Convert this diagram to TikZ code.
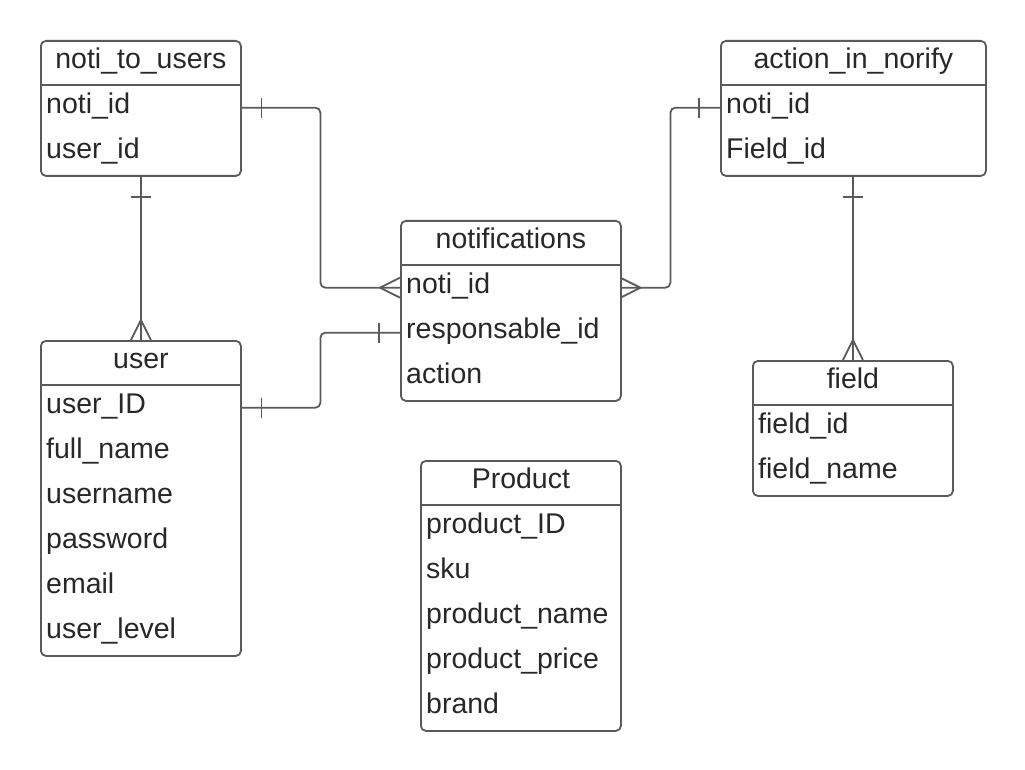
\documentclass[tikz,border=0pt]{standalone}
\usepackage{fontspec}
\setmainfont{Liberation Sans}
\usetikzlibrary{calc}
\definecolor{ln}{HTML}{5A5A5A}
\definecolor{tx}{HTML}{282828}
\tikzset{
  frame/.style={draw=ln, line width=1.8pt, rounded corners=5pt, rectangle, inner sep=0pt},
  hdr/.style={inner ysep=0pt, inner xsep=6pt, minimum height=45pt, text height=20pt, text depth=8.5pt, text=tx, font=\fontsize{28.5}{34}\selectfont},
  rowc/.style={inner ysep=0pt, inner xsep=6pt, minimum height=45pt, text height=20pt, text depth=8pt, align=left, text=tx, font=\fontsize{28.5}{34}\selectfont},
  conn/.style={draw=ln, line width=1.8pt, rounded corners=5pt},
  erm/.style={draw=ln, line width=1.8pt}
}
% name, x, y, width, height, title, rows
\newcommand{\ertab}[7]{%
  \node[frame, minimum width=#4pt, minimum height=#5pt, anchor=north west] (#1) at (#2,#3) {};
  \node[hdr, anchor=north] (#1h) at (#1.north) {#6};
  \draw[erm] ($(#1.north west)+(0,45)$) -- ($(#1.north east)+(0,45)$);
  \foreach \r [count=\i] in {#7} {
    \node[rowc, text width=#4pt-12pt, anchor=north west] (#1\i) at ($(#1.north west)+(0,45*\i)$) {\r};
  }
}
\begin{document}
\begin{tikzpicture}[x=1pt,y=-1pt]
\fill[white] (0,0) rectangle (1025,770);
\useasboundingbox (0,0) rectangle (1025,770);

\ertab{ntu}{40}{40}{200}{135}{noti\_to\_users}{noti\_id,user\_id}
\ertab{usr}{40}{340}{200}{315}{user}{user\_ID,full\_name,username,password,email,user\_level}
\ertab{nf}{400}{220}{220}{180}{notifications}{noti\_id,responsable\_id,action}
\ertab{ain}{720}{40}{265}{135}{action\_in\_norify}{noti\_id,Field\_id}
\ertab{fld}{752}{360}{200}{135}{field}{field\_id,field\_name}
\ertab{prd}{420}{460}{200}{270}{Product}{product\_ID,sku,product\_name,product\_price,brand}

% noti_to_users -> notifications
\draw[conn] (ntu1.east) -- ++(80,0) |- (nf1.west);
\draw[erm] ($(ntu1.east)+(21,-10)$) -- ++(0,20);
\draw[erm] ($(nf1.west)+(0,-10)$) -- ++(-20,10) -- ++(20,10);

% noti_to_users -> user
\draw[conn] (ntu.south) -- (usr.north);
\draw[erm] ($(ntu.south)+(-10,20)$) -- ++(20,0);
\draw[erm] ($(usr.north)+(-10,0)$) -- ++(10,-20) -- ++(10,20);

% user -> notifications
\draw[conn] (usr1.east) -- ++(80,0) |- (nf2.west);
\draw[erm] ($(usr1.east)+(21,-10)$) -- ++(0,20);
\draw[erm] ($(nf2.west)+(-21,-10)$) -- ++(0,20);

% notifications -> action_in_norify
\draw[conn] (nf1.east) -- ++(50,0) |- (ain1.west);
\draw[erm] ($(nf1.east)+(0,-10)$) -- ++(20,10) -- ++(-20,10);
\draw[erm] ($(ain1.west)+(-21,-10)$) -- ++(0,20);

% action_in_norify -> field
\coordinate (ainbot) at (fld.north |- ain.south);
\draw[conn] (ainbot) -- (fld.north);
\draw[erm] ($(ainbot)+(-10,20)$) -- ++(20,0);
\draw[erm] ($(fld.north)+(-10,0)$) -- ++(10,-20) -- ++(10,20);
\end{tikzpicture}
\end{document}
